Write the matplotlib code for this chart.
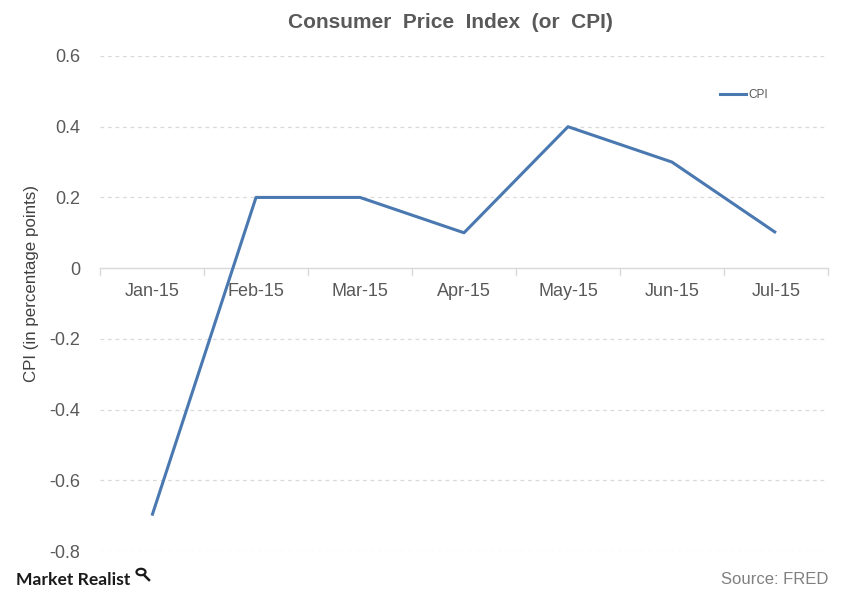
import matplotlib
matplotlib.use("Agg")
import matplotlib.pyplot as plt
from matplotlib.lines import Line2D
from matplotlib.patches import Circle

months = ["Jan-15", "Feb-15", "Mar-15", "Apr-15", "May-15", "Jun-15", "Jul-15"]
cpi = [-0.7, 0.2, 0.2, 0.1, 0.4, 0.3, 0.1]
yticks = [-0.8, -0.6, -0.4, -0.2, 0, 0.2, 0.4, 0.6]
ytick_labels = ["-0.8", "-0.6", "-0.4", "-0.2", "0", "0.2", "0.4", "0.6"]

plt.rcParams['font.family'] = ['Liberation Sans', 'DejaVu Sans']
fig = plt.figure(figsize=(8.41, 6.01), dpi=100)
ax = fig.add_axes([100/841, 1-551/601, 728/841, (551-56)/601])

x = list(range(len(months)))
line_color = "#4A78B0"
ax.plot(x, cpi, color=line_color, lw=2.2, solid_capstyle='butt', zorder=3)

ax.set_xlim(-0.5, len(months) - 0.5)
ax.set_ylim(-0.8, 0.6)
ax.set_yticks(yticks)
ax.set_yticklabels(ytick_labels)
ax.tick_params(axis='y', length=0, pad=14, labelsize=13, labelcolor="#595959")
ax.set_xticks([])

for y in yticks:
    if y != 0:
        ax.axhline(y, color="#D9D9D9", lw=0.9, ls=(0, (3, 3)), zorder=1)
ax.axhline(0, color="#D9D9D9", lw=1.0, zorder=2)
for i in range(len(months) + 1):
    ax.plot([i - 0.5, i - 0.5], [0, -0.018], color="#D9D9D9", lw=1.0, zorder=2, clip_on=False)
for i, m in enumerate(months):
    ax.text(i, -0.065, m, ha='center', va='center', fontsize=13, color="#595959")

for s in ax.spines.values():
    s.set_visible(False)

fig.text(32/841, 1-283/601, "CPI (in percentage points)", rotation=90, ha='center', va='center',
         fontsize=12.2, color="#404040")

fig.text(450/841, 1-22/601, "Consumer  Price  Index  (or  CPI)", ha='center', va='center',
         fontsize=15, fontweight='bold', color="#595959")

handle = Line2D([0], [0], color=line_color, lw=2.2)
leg = ax.legend([handle], ["CPI"], loc='center left', bbox_to_anchor=((709-100)/728, (551-95)/495),
                frameon=False, fontsize=8.5, handlelength=2.2, handletextpad=0.2)
for t in leg.get_texts():
    t.set_color("#595959")

fig.text(16/841, 1-580/601, "Market Realist", ha='left', va='center', fontsize=12.6,
         color="#1a1a1a", fontweight='bold', family=['Lato', 'DejaVu Sans'])
# small magnifier icon next to logo
fig.patches.append(Circle((141/841, 1-572/601), 4.5/841, transform=fig.transFigure,
                          fill=False, ec="#1a1a1a", lw=1.6))
fig.add_artist(Line2D([144.5/841, 149/841], [1-575.5/601, 1-580/601], color="#1a1a1a", lw=1.8,
                      transform=fig.transFigure))

fig.text(828/841, 1-579/601, "Source: FRED", ha='right', va='center', fontsize=12, color="#808080")

fig.savefig("out.png", dpi=100)
